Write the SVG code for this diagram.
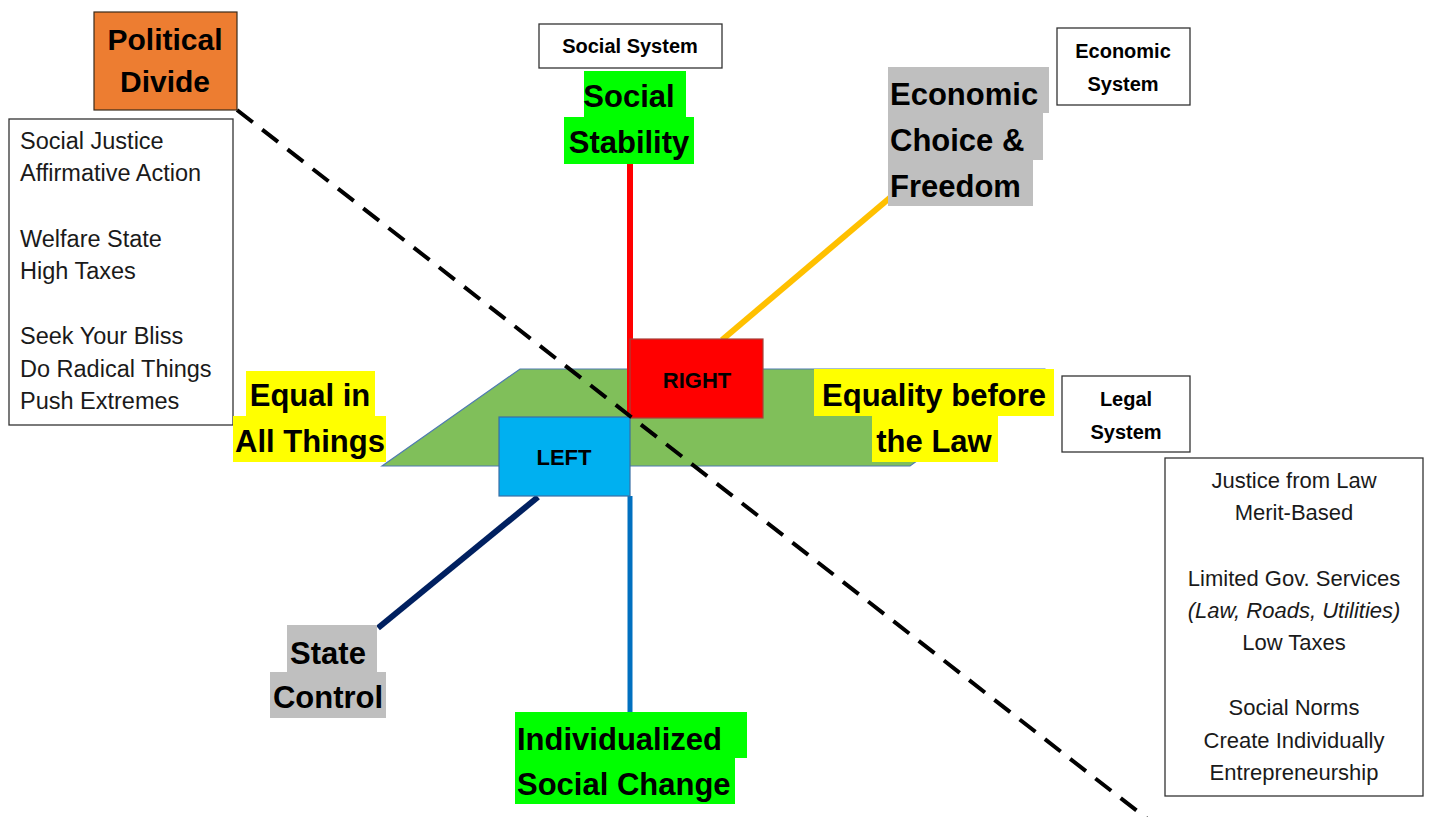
<svg xmlns="http://www.w3.org/2000/svg" width="1432" height="817" viewBox="0 0 1432 817">
<style>
.big{font-family:"Liberation Sans",Arial,sans-serif;font-weight:bold;font-size:31px;fill:#000}
.lbl{font-family:"Liberation Sans",Arial,sans-serif;font-weight:bold;font-size:20px;fill:#000}
.txt{font-family:"Liberation Sans",Arial,sans-serif;font-size:22px;fill:#1a1a1a}
.box{fill:#fff;stroke:#333;stroke-width:1.3}
.mid{text-anchor:middle}
.hg{fill:#00FF00}.hy{fill:#FFFF00}.hs{fill:#BFBFBF}
</style>
<rect width="1432" height="817" fill="#fff"/>
<g id="platform">
<polygon points="382,466 520,369 1044,369 910,466" fill="#80BF5A" stroke="#4F7BB0" stroke-width="1.2"/>
</g>
<g id="connectors" stroke-linecap="butt">
<line x1="630" y1="164" x2="630" y2="418" stroke="#FF0000" stroke-width="6"/>
<line x1="892" y1="196" x2="722" y2="340" stroke="#FFC000" stroke-width="6"/>
<line x1="630" y1="496" x2="630" y2="712" stroke="#0070C0" stroke-width="5"/>
<line x1="538" y1="497" x2="378" y2="628" stroke="#002060" stroke-width="6"/>
</g>
<g id="right">
<rect x="630" y="339" width="133" height="79" fill="#FF0000" stroke="#A5413A" stroke-width="1.2"/>
<text class="lbl mid" x="697" y="388" style="font-size:22px">RIGHT</text>
</g>
<g id="left">
<rect x="499" y="417" width="131" height="79" fill="#00B0F0" stroke="#3A6EA5" stroke-width="1.2"/>
<text class="lbl mid" x="564" y="465" style="font-size:22px">LEFT</text>
</g>
<g id="divide-line">
<line x1="237" y1="110" x2="1150" y2="821" stroke="#000" stroke-width="4" stroke-dasharray="20 12"/>
</g>
<g id="political-divide">
<rect x="94" y="12" width="143" height="98" fill="#ED7D31" stroke="#3a2a1a" stroke-width="1.2"/>
<text class="big mid" x="165" y="50" style="font-size:30px">Political</text>
<text class="big mid" x="165" y="92" style="font-size:30px">Divide</text>
</g>
<g id="left-list">
<rect class="box" x="9" y="119" width="224" height="306"/>
<text class="txt" x="20" y="149" style="font-size:23.5px">Social Justice</text>
<text class="txt" x="20" y="181" style="font-size:23.5px">Affirmative Action</text>
<text class="txt" x="20" y="247" style="font-size:23.5px">Welfare State</text>
<text class="txt" x="20" y="279" style="font-size:23.5px">High Taxes</text>
<text class="txt" x="20" y="344" style="font-size:23.5px">Seek Your Bliss</text>
<text class="txt" x="20" y="377" style="font-size:23.5px">Do Radical Things</text>
<text class="txt" x="20" y="409" style="font-size:23.5px">Push Extremes</text>
</g>
<g id="social-system">
<rect class="box" x="539" y="24" width="183" height="44"/>
<text class="lbl mid" x="630" y="53">Social System</text>
</g>
<g id="social-stability">
<rect class="hg" x="584" y="71" width="102" height="46"/>
<rect class="hg" x="564" y="117" width="130" height="47"/>
<text class="big mid" x="629" y="107">Social</text>
<text class="big mid" x="629" y="153">Stability</text>
</g>
<g id="economic-choice">
<rect class="hs" x="888" y="67" width="161" height="46"/>
<rect class="hs" x="888" y="113" width="155" height="47"/>
<rect class="hs" x="888" y="160" width="145" height="46"/>
<text class="big" x="890" y="105">Economic</text>
<text class="big" x="890" y="151">Choice &amp;</text>
<text class="big" x="890" y="197">Freedom</text>
</g>
<g id="economic-system">
<rect class="box" x="1057" y="28" width="133" height="77"/>
<text class="lbl mid" x="1123" y="58">Economic</text>
<text class="lbl mid" x="1123" y="91">System</text>
</g>
<g id="equal-all">
<rect class="hy" x="246" y="371" width="129" height="46"/>
<rect class="hy" x="233" y="416" width="153" height="46"/>
<text class="big mid" x="310" y="406">Equal in</text>
<text class="big mid" x="310" y="452">All Things</text>
</g>
<g id="equality-law">
<rect class="hy" x="814" y="369" width="240" height="47"/>
<rect class="hy" x="872" y="416" width="126" height="46"/>
<text class="big mid" x="934" y="406">Equality before</text>
<text class="big mid" x="934" y="452">the Law</text>
</g>
<g id="legal-system">
<rect class="box" x="1062" y="376" width="128" height="76"/>
<text class="lbl mid" x="1126" y="406">Legal</text>
<text class="lbl mid" x="1126" y="439">System</text>
</g>
<g id="right-list">
<rect class="box" x="1165" y="458" width="258" height="338"/>
<text class="txt mid" x="1294" y="488">Justice from Law</text>
<text class="txt mid" x="1294" y="520">Merit-Based</text>
<text class="txt mid" x="1294" y="586">Limited Gov. Services</text>
<text class="txt mid" x="1294" y="618" font-style="italic">(Law, Roads, Utilities)</text>
<text class="txt mid" x="1294" y="650">Low Taxes</text>
<text class="txt mid" x="1294" y="715">Social Norms</text>
<text class="txt mid" x="1294" y="748">Create Individually</text>
<text class="txt mid" x="1294" y="780">Entrepreneurship</text>
</g>
<g id="state-control">
<rect class="hs" x="287" y="625" width="90" height="47"/>
<rect class="hs" x="270" y="672" width="116" height="46"/>
<text class="big mid" x="328" y="664">State</text>
<text class="big mid" x="328" y="708">Control</text>
</g>
<g id="individualized">
<rect class="hg" x="515" y="712" width="232" height="46"/>
<rect class="hg" x="515" y="758" width="220" height="46"/>
<text class="big" x="517" y="750">Individualized</text>
<text class="big" x="517" y="795">Social Change</text>
</g>
</svg>
